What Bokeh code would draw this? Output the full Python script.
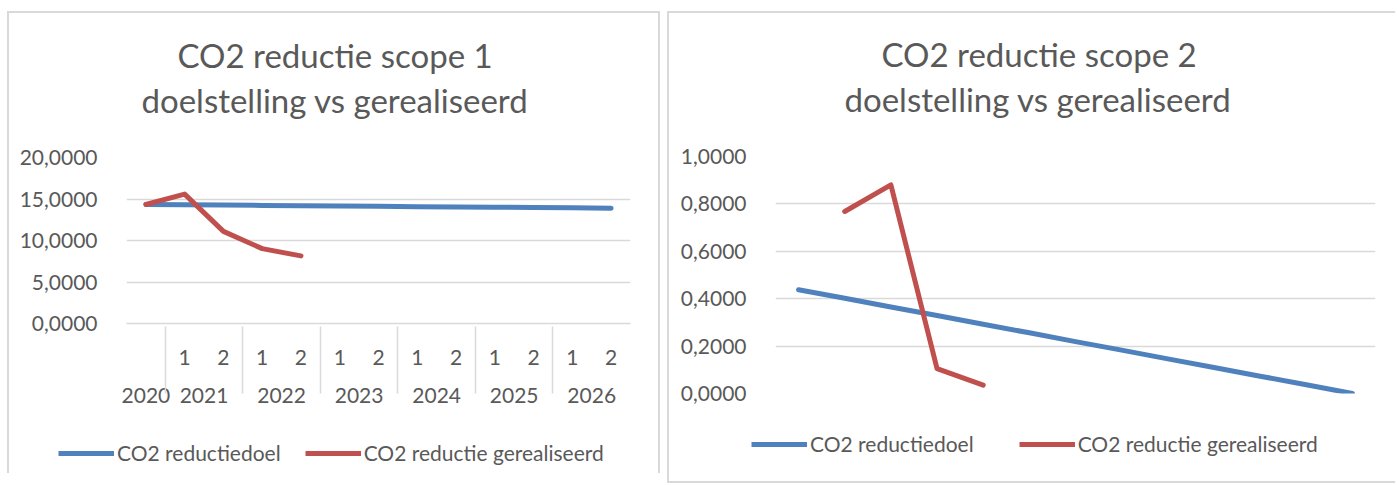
from bokeh.plotting import figure
from bokeh.models import (FactorRange, Range1d, FixedTicker, CustomJSTickFormatter,
                          Title, Legend, LegendItem)
from bokeh.layouts import row, column
from bokeh.embed import file_html
from bokeh.resources import INLINE

# ---------------- data ----------------
years = ["2020", "2021", "2021", "2022", "2022", "2023", "2023",
         "2024", "2024", "2025", "2025", "2026", "2026"]
halves = ["", "1", "2", "1", "2", "1", "2", "1", "2", "1", "2", "1", "2"]
categories = list(zip(years, halves))

scope1_doel = [14.34, 14.30, 14.27, 14.23, 14.19, 14.16, 14.12,
               14.08, 14.05, 14.01, 13.97, 13.94, 13.90]
scope1_real = [14.34, 15.59, 11.10, 9.02, 8.15]
scope1_real_cats = categories[0:5]

scope2_doel = [0.438, 0.402, 0.365, 0.329, 0.292, 0.256, 0.219,
               0.183, 0.146, 0.110, 0.073, 0.037, 0.000]
scope2_real = [0.768, 0.880, 0.105, 0.035]
scope2_real_cats = categories[1:5]

scope1_ticks = [0, 5, 10, 15, 20]
scope2_ticks = [0, 0.2, 0.4, 0.6, 0.8, 1.0]

s1_title_a = "CO2 reductie scope 1"
s2_title_a = "CO2 reductie scope 2"
title_b = "doelstelling vs gerealiseerd"
label_doel = "CO2 reductiedoel"
label_real = "CO2 reductie gerealiseerd"

# ---------------- style ----------------
FONT = "Lato"
TXT = "#595959"
GRID = "#d9d9d9"
BLUE = "#4F81BD"
RED = "#C0504D"
TICK_FS = "21px"
TITLE_FS = "33px"

fmt = CustomJSTickFormatter(code="return tick.toFixed(4).replace('.', ',');")


def new_figure(**kw):
    try:
        return figure(frame_align=False, **kw)
    except Exception:
        return figure(**kw)


def make_fig(fw, fh, ticks, yend, ta, tb, mins, off_a, off_b, **kw):
    p = new_figure(frame_width=fw, frame_height=fh,
                   x_range=FactorRange(*categories, range_padding=0, factor_padding=0,
                                       group_padding=0, subgroup_padding=0),
                   y_range=Range1d(0, yend),
                   output_backend="svg", toolbar_location=None,
                   outline_line_color=None,
                   background_fill_color=None, border_fill_color=None,
                   min_border_left=mins[0], min_border_right=mins[1],
                   min_border_top=mins[2], min_border_bottom=mins[3], **kw)
    t2 = Title(text=tb, align="left", offset=off_b, text_font=FONT, text_font_size=TITLE_FS,
               text_font_style="normal", text_color=TXT, standoff=76)
    t1 = Title(text=ta, align="left", offset=off_a, text_font=FONT, text_font_size=TITLE_FS,
               text_font_style="normal", text_color=TXT, standoff=-70)
    p.add_layout(t2, "above")
    p.add_layout(t1, "above")

    p.yaxis.ticker = FixedTicker(ticks=ticks)
    p.yaxis.formatter = fmt
    p.yaxis.axis_line_color = None
    p.yaxis.major_tick_line_color = None
    p.yaxis.minor_tick_line_color = None
    p.yaxis.major_label_standoff = 23
    p.yaxis.major_label_text_font = FONT
    p.yaxis.major_label_text_font_size = TICK_FS
    p.yaxis.major_label_text_color = TXT

    p.ygrid.ticker = FixedTicker(ticks=ticks)
    p.ygrid.grid_line_color = GRID
    p.ygrid.grid_line_width = 1.5
    p.xgrid.grid_line_color = None
    return p


def make_legend_fig(width, height, loc, spacing, doel, real, real_cats):
    # legend-only panel: its series lie outside the y range, only the legend is seen
    f = new_figure(width=width, height=height, title=None,
                   x_range=FactorRange(*categories), y_range=Range1d(-2, -1),
                   output_backend="svg", toolbar_location=None,
                   x_axis_location=None, y_axis_location=None,
                   outline_line_color=None, background_fill_color=None,
                   border_fill_color=None, min_border=0)
    f.grid.visible = False
    ra = f.line(x=categories, y=doel, line_color=BLUE, line_width=5)
    rb = f.line(x=real_cats, y=real, line_color=RED, line_width=5)
    leg = Legend(items=[LegendItem(label=label_doel, renderers=[ra]),
                        LegendItem(label=label_real, renderers=[rb])],
                 orientation="horizontal", location=loc,
                 label_text_font=FONT, label_text_font_size=TICK_FS, label_text_color=TXT,
                 glyph_width=56, glyph_height=20, label_standoff=3, spacing=spacing,
                 border_line_color=None, background_fill_color=None,
                 margin=0, padding=0)
    f.add_layout(leg, "center")
    return f


# ---------------- left chart ----------------
p1 = make_fig(504, 166, scope1_ticks, 20, s1_title_a, title_b,
              (119, 30, 146, 100), 51, 15)
p1.line(x=categories, y=scope1_doel, line_color=BLUE, line_width=5,
        line_cap="round", line_join="round")
p1.line(x=scope1_real_cats, y=scope1_real, line_color=RED, line_width=5,
        line_cap="round", line_join="round")

ax = p1.xaxis[0]
ax.axis_line_color = GRID
ax.axis_line_width = 1.5
ax.major_tick_line_color = None
ax.minor_tick_line_color = None
ax.major_label_standoff = 20
ax.major_label_text_font = FONT
ax.major_label_text_font_size = TICK_FS
ax.major_label_text_color = TXT
ax.group_text_font = FONT
ax.group_text_font_size = TICK_FS
ax.group_text_color = TXT
ax.group_text_font_style = "normal"
ax.separator_line_color = GRID
ax.separator_line_width = 1.5

l1 = make_legend_fig(653, 50, (51, 8), 24, scope1_doel, scope1_real, scope1_real_cats)

# ---------------- right chart ----------------
p2 = make_fig(600, 237, scope2_ticks, 1.0, s2_title_a, title_b,
              (108, 20, 145, 20), 106, 69, x_axis_location=None)
p2.line(x=categories, y=scope2_doel, line_color=BLUE, line_width=5,
        line_cap="round", line_join="round")
p2.line(x=scope2_real_cats, y=scope2_real, line_color=RED, line_width=5,
        line_cap="round", line_join="round")

l2 = make_legend_fig(728, 70, (84, 27), 45, scope2_doel, scope2_real, scope2_real_cats)

col1 = column(p1, l1, margin=(11, 0, 0, 7))
col1.styles = {"box-shadow": "inset 2px 0 0 #d9d9d9, inset 0 2px 0 #d9d9d9, inset -2px 0 0 #d9d9d9"}
col2 = column(p2, l2, margin=(11, 0, 0, 7))
col2.styles = {"box-shadow": "inset 2px 0 0 #d9d9d9, inset 0 2px 0 #d9d9d9, inset 0 -2px 0 #d9d9d9"}

layout = row(col1, col2)
open("out.html", "w").write(file_html(layout, INLINE))
